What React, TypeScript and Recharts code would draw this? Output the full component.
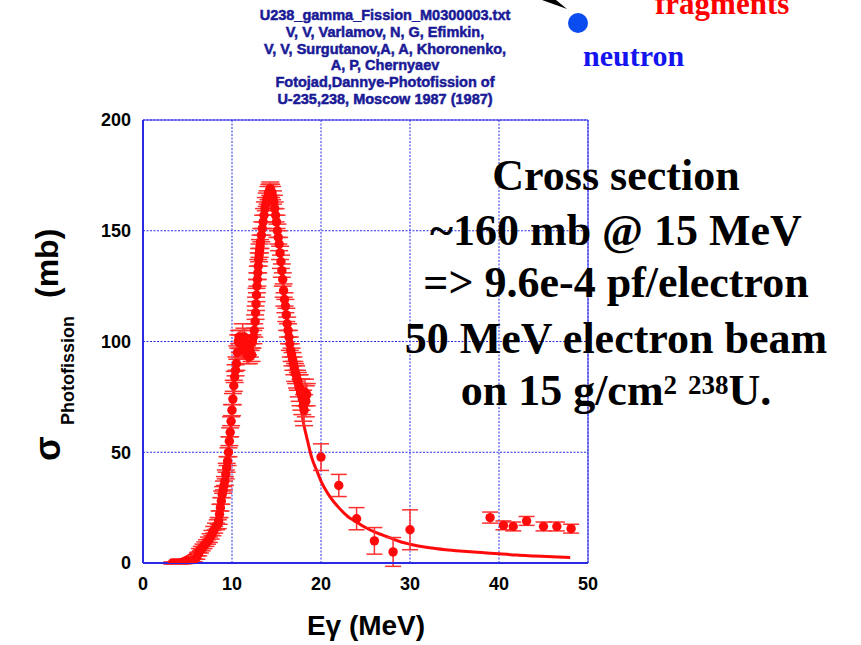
import {
  CartesianGrid,
  ComposedChart,
  ErrorBar,
  Line,
  ReferenceArea,
  Scatter,
  XAxis,
  YAxis,
} from "recharts";

// [E (MeV), sigma (mb), error (mb)]
const peakPoints: [number, number, number][] = [
  [3.3, 0, 0.5], [3.6, 0, 0.5], [3.9, 0, 0.5], [4.2, 0, 0.5], [4.5, 0.2, 0.5],
  [4.8, 0.3, 0.5], [5.1, 0.5, 0.5], [5.4, 0.8, 0.6], [5.7, 1.2, 0.6], [6.0, 2.5, 0.8],
  [6.2, 4, 0.8], [6.4, 5.5, 1], [6.6, 6.5, 1], [6.8, 7.5, 1], [7.0, 8.5, 1],
  [7.2, 9.5, 1], [7.4, 10.5, 1.2], [7.6, 12, 1.2], [7.8, 13.5, 1.2], [8.0, 15, 1.5],
  [8.2, 16.5, 1.5], [8.4, 17.5, 2], [8.5, 19, 1.5], [8.6, 22, 1.5], [8.7, 25, 1.5],
  [8.8, 28, 1.5], [8.9, 31, 1.5], [9.0, 33, 1.5], [9.1, 35, 2], [9.2, 37, 2],
  [9.3, 40, 2], [9.4, 43, 2], [9.5, 46, 2], [9.6, 50, 2], [9.7, 55, 2],
  [9.8, 59, 2], [9.9, 64, 2], [10.0, 69, 2.5], [10.1, 74, 2.5], [10.2, 80, 2.5],
  [10.3, 84, 2.5], [10.4, 87, 2.5], [10.5, 90, 3], [10.6, 95, 3], [10.7, 100, 3],
  [10.8, 102, 3], [10.9, 99, 4], [11.0, 101, 4], [11.1, 98, 5], [11.2, 100, 8],
  [11.3, 97, 5], [11.4, 102, 4], [11.5, 96, 4], [11.6, 99, 4], [11.7, 94, 4],
  [11.8, 97, 3], [11.9, 93, 3], [12.0, 96, 3], [12.1, 99, 3], [12.2, 94, 3],
  [12.3, 100, 3], [12.4, 102, 3], [12.5, 105, 3], [12.6, 109, 3], [12.65, 113, 3],
  [12.7, 117, 3], [12.75, 121, 3], [12.8, 125, 3], [12.85, 128, 3], [12.9, 131, 3],
  [12.95, 134, 3], [13.0, 137, 3], [13.05, 139, 3], [13.1, 141, 3], [13.15, 143, 3],
  [13.2, 145, 3], [13.3, 148, 3], [13.4, 151, 3], [13.5, 154, 3], [13.6, 157, 3],
  [13.7, 160, 3], [13.8, 162, 3], [13.9, 164, 3], [14.0, 165, 3], [14.1, 167, 3],
  [14.2, 168, 3], [14.3, 169, 3], [14.4, 168, 3], [14.5, 167, 3], [14.6, 165, 3],
  [14.7, 163, 3], [14.8, 160, 3], [14.9, 157, 3], [15.0, 154, 3], [15.1, 150, 3],
  [15.2, 147, 3], [15.3, 144, 3], [15.4, 140, 3], [15.5, 136, 3], [15.6, 132, 3],
  [15.7, 128, 3], [15.8, 123, 3], [15.9, 119, 3], [16.0, 116, 3], [16.1, 112, 3],
  [16.2, 108, 3], [16.3, 105, 3], [16.4, 102, 3], [16.5, 99, 3], [16.6, 96, 3],
  [16.7, 94, 3], [16.8, 92, 3], [16.9, 90, 3], [17.0, 88, 3], [17.1, 86, 4],
  [17.2, 85, 4], [17.3, 83, 4], [17.4, 82, 4], [17.5, 80, 5], [17.6, 79, 6],
  [17.7, 77, 6], [17.8, 76, 7], [17.9, 74, 7], [18.0, 71, 7], [18.1, 69, 7],
  [18.2, 77, 6], [18.3, 73, 7], [18.4, 76, 5],
];

const tailPoints: [number, number, number][] = [
  [20.0, 47.8, 6], [22.0, 35, 5], [24.0, 20, 5], [26.0, 10, 6], [28.1, 5, 6.5],
  [30.0, 15, 9], [39.0, 20.5, 2.5], [40.5, 17, 2], [41.6, 16.5, 2], [43.1, 19, 2],
  [45.0, 16.5, 2], [46.5, 16.5, 2], [48.1, 15.5, 2],
];

// fitted curve [E, sigma]
const fitCurve: [number, number][] = [
  [3.5, 0], [4, 1], [4.5, 2], [5, 3], [5.5, 4.5], [6, 6.5], [6.5, 8], [7, 10],
  [7.5, 12], [8, 15], [8.5, 20], [9, 30], [9.5, 46], [10, 68], [10.5, 90], [11, 99],
  [11.5, 98], [12, 95], [12.5, 103], [13, 136], [13.5, 154], [14, 165], [14.3, 169],
  [14.6, 165], [15, 154], [15.5, 136], [16, 116], [16.5, 99], [17, 88], [17.5, 78],
  [18, 64], [18.5, 55], [19, 47], [19.5, 42], [20, 37], [21, 30], [22, 25], [23, 21],
  [24, 18.5], [25, 16], [26, 14], [27, 12.5], [28, 11], [29, 9.5], [30, 8.5], [32, 7],
  [34, 6], [36, 5.3], [38, 4.7], [40, 4.2], [42, 3.6], [44, 3.2], [46, 2.8], [48, 2.5],
];

const xTicks = [0, 10, 20, 30, 40, 50];
const yTicks = [0, 50, 100, 150, 200];

const headerLines = [
  "U238_gamma_Fission_M0300003.txt",
  "V, V, Varlamov, N, G, Efimkin,",
  "V, V, Surgutanov,A, A, Khoronenko,",
  "A, P, Chernyaev",
  "Fotojad,Dannye-Photofission of",
  "U-235,238, Moscow 1987  (1987)",
];

const noteLines = [
  "Cross section",
  "~160 mb @ 15 MeV",
  "=> 9.6e-4 pf/electron",
  "50 MeV electron beam",
];
const noteBaselines = [190, 245, 297, 353];

const toRows = (pts: [number, number, number][]) =>
  pts.map(([e, s, err]) => ({ e, s, err }));

const SANS = "'Liberation Sans', Arial, sans-serif";
const SERIF = "'Liberation Serif', 'Times New Roman', serif";
const RED = "#ff0a0a";
const BLUE = "#2a2ae6";

const dot = (p: any) => <circle cx={p.cx} cy={p.cy} r={4.7} fill={RED} />;

const tickStyle = { fontFamily: SANS, fontSize: 18, fontWeight: "bold", fill: "#000" };

export default function App() {
  return (
    <div style={{ position: "absolute", left: 0, top: 0, width: 861, height: 645, background: "#fff" }}>
      <ComposedChart
        width={861}
        height={645}
        margin={{ top: 120, right: 273, bottom: 52, left: 93 }}
      >
        <CartesianGrid stroke={BLUE} strokeDasharray="2 1.5" strokeWidth={1} />
        <ReferenceArea x1={0} x2={50} y1={0} y2={200} fill="none" stroke={BLUE} strokeWidth={1} />
        <XAxis
          type="number"
          dataKey="e"
          domain={[0, 50]}
          ticks={xTicks}
          allowDataOverflow
          height={30}
          tickLine={false}
          tickSize={6}
          tickMargin={8}
          axisLine={{ stroke: BLUE, strokeWidth: 2 }}
          tick={tickStyle}
        />
        <YAxis
          type="number"
          dataKey="s"
          domain={[0, 200]}
          ticks={yTicks}
          allowDataOverflow
          width={50}
          tickLine={false}
          tickSize={6}
          tickMargin={6}
          axisLine={{ stroke: BLUE, strokeWidth: 2 }}
          tick={tickStyle}
        />
        <Line
          data={fitCurve.map(([e, s]) => ({ e, s }))}
          dataKey="s"
          type="monotone"
          stroke={RED}
          strokeWidth={3}
          dot={false}
          isAnimationActive={false}
        />
        <Scatter data={toRows(peakPoints)} dataKey="s" shape={dot} isAnimationActive={false}>
          <ErrorBar dataKey="err" direction="y" width={9} stroke="#ff3030" strokeWidth={1.5} />
        </Scatter>
        <Scatter data={toRows(tailPoints)} dataKey="s" shape={dot} isAnimationActive={false}>
          <ErrorBar dataKey="err" direction="y" width={8} stroke="#ff3030" strokeWidth={1.5} />
        </Scatter>
      </ComposedChart>

      <svg
        width={861}
        height={645}
        style={{ position: "absolute", left: 0, top: 0, pointerEvents: "none" }}
      >
        {headerLines.map((t, i) => (
          <text
            key={i}
            x={385}
            y={20 + i * 16.8}
            textAnchor="middle"
            fontFamily={SANS}
            fontWeight="bold"
            fontSize={14.5}
            fill="#1a1a96"
            stroke="#1a1a96"
            strokeWidth={0.5}
          >
            {t}
          </text>
        ))}

        <polygon points="542,0 556,0 567,9" fill="#000" />
        <circle cx={578} cy={23} r={10} fill="#0b4cf0" />
        <text x={655} y={14} fontFamily={SERIF} fontWeight="bold" fontSize={31} fill="#ff0000">
          fragments
        </text>
        <text x={583} y={66} fontFamily={SERIF} fontWeight="bold" fontSize={30} fill="#1414ee">
          neutron
        </text>

        {noteLines.map((t, i) => (
          <text
            key={i}
            x={616}
            y={noteBaselines[i]}
            textAnchor="middle"
            fontFamily={SERIF}
            fontWeight="bold"
            fontSize={44}
            fill="#000"
          >
            {t}
          </text>
        ))}
        <text x={616} y={405} textAnchor="middle" fontFamily={SERIF} fontWeight="bold" fontSize={44} fill="#000">
          on 15 g/cm
          <tspan fontSize={27} dy={-11}>2</tspan>
          <tspan dy={11}> </tspan>
          <tspan fontSize={27} dy={-11}>238</tspan>
          <tspan dy={11}>U.</tspan>
        </text>

        <text x={366} y={635} textAnchor="middle" fontFamily={SANS} fontWeight="bold" fontSize={28} fill="#000">
          Eγ (MeV)
        </text>

        <text transform="rotate(-90, 60, 461)" x={60} y={461} fontFamily={SANS} fontWeight="bold" fontSize={36} fill="#000">
          σ
        </text>
        <text transform="rotate(-90, 74, 425)" x={74} y={425} fontFamily={SANS} fontWeight="bold" fontSize={18} fill="#000">
          Photofission
        </text>
        <text transform="rotate(-90, 58, 298)" x={58} y={298} fontFamily={SANS} fontWeight="bold" fontSize={32} fill="#000">
          (mb)
        </text>
      </svg>
    </div>
  );
}
